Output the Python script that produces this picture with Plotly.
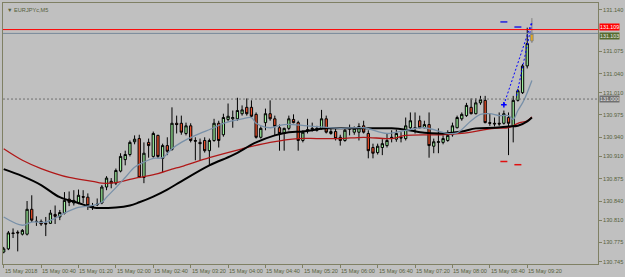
import plotly.graph_objects as go
import pandas as pd

# ---------------- data (EURJPYc, M5, 15 May 2018) ----------------
TIMES = list(pd.date_range("2018-05-15 00:00", periods=114, freq="5min"))

OPEN = [130.760,130.765,130.790,130.791,130.788,130.788,130.827,130.808,130.808,130.805,
        130.805,130.819,130.815,130.821,130.843,130.837,130.837,130.847,130.846,130.832,
        130.834,130.837,130.862,130.871,130.868,130.887,130.905,130.913,130.933,130.938,
        130.877,130.932,130.910,130.943,130.907,130.927,130.921,130.962,130.962,130.946,
        130.958,130.935,130.932,130.935,130.919,130.935,130.962,130.944,130.968,130.969,
        130.969,130.977,130.987,130.987,130.976,130.940,130.963,130.977,130.969,130.955,
        130.946,130.954,130.968,130.963,130.935,130.952,130.954,130.951,130.954,130.969,
        130.946,130.949,130.940,130.935,130.954,130.948,130.948,130.958,130.946,130.924,
        130.916,130.924,130.927,130.940,130.937,130.940,130.938,130.955,130.954,130.966,
        130.955,130.960,130.926,130.932,130.932,130.935,130.944,130.955,130.969,130.974,
        130.987,130.977,130.994,130.998,130.963,130.962,130.962,130.962,130.971,130.958,
        130.998,131.010,131.052,131.091]
HIGH = [130.768,130.793,130.797,130.794,130.796,130.840,130.849,130.816,130.811,130.815,
        130.826,130.833,130.826,130.854,130.855,130.857,130.858,130.857,130.852,130.837,
        130.844,130.865,130.879,130.876,130.891,130.915,130.919,130.935,130.943,130.944,
        130.932,130.938,130.949,130.944,130.930,130.940,130.987,130.974,130.974,130.963,
        130.962,130.940,130.938,130.940,130.938,130.969,130.966,130.977,130.993,130.982,
        131.002,130.990,131.001,130.998,130.979,130.957,130.985,130.998,130.974,130.960,
        130.955,130.974,130.976,130.966,130.951,130.969,130.963,130.958,130.983,130.974,
        130.954,130.954,130.944,130.954,130.960,130.957,130.962,130.966,130.951,130.930,
        130.930,130.937,130.946,130.951,130.952,130.948,130.971,130.979,130.979,130.974,
        130.966,130.979,130.938,130.954,130.943,130.951,130.963,130.974,130.979,130.994,
        131.001,131.001,131.005,131.005,130.977,130.971,130.979,130.982,130.979,131.005,
        131.016,131.055,131.112,131.127]
LOW = [130.758,130.763,130.782,130.761,130.786,130.786,130.807,130.801,130.801,130.785,
       130.804,130.804,130.810,130.819,130.832,130.833,130.835,130.837,130.826,130.826,
       130.832,130.835,130.857,130.860,130.865,130.885,130.896,130.910,130.929,130.876,
       130.868,130.908,130.908,130.907,130.885,130.912,130.919,130.946,130.944,130.943,
       130.932,130.904,130.904,130.916,130.896,130.933,130.924,130.941,130.965,130.955,
       130.966,130.974,130.974,130.971,130.938,130.938,130.951,130.966,130.943,130.919,
       130.919,130.951,130.962,130.919,130.932,130.946,130.949,130.949,130.952,130.946,
       130.944,130.935,130.927,130.933,130.943,130.944,130.935,130.946,130.907,130.907,
       130.913,130.912,130.924,130.932,130.933,130.932,130.935,130.952,130.946,130.954,
       130.954,130.908,130.915,130.915,130.929,130.933,130.941,130.954,130.966,130.972,
       130.976,130.976,130.991,130.962,130.958,130.957,130.958,130.960,130.912,130.932,
       130.996,131.008,131.048,131.088]
CLOSE = [130.765,130.790,130.789,130.790,130.794,130.827,130.810,130.808,130.804,130.804,
         130.821,130.816,130.822,130.841,130.838,130.841,130.849,130.846,130.833,130.831,
         130.835,130.862,130.876,130.868,130.888,130.910,130.913,130.932,130.937,130.877,
         130.915,130.927,130.946,130.910,130.927,130.918,130.962,130.960,130.948,130.958,
         130.935,130.934,130.930,130.919,130.935,130.962,130.935,130.971,130.973,130.971,
         130.982,130.983,130.977,130.973,130.940,130.954,130.977,130.969,130.957,130.946,
         130.954,130.969,130.963,130.935,130.948,130.951,130.953,130.954,130.969,130.948,
         130.949,130.938,130.935,130.951,130.953,130.954,130.957,130.948,130.919,130.915,
         130.926,130.930,130.935,130.939,130.946,130.939,130.958,130.966,130.955,130.955,
         130.960,130.927,130.933,130.933,130.938,130.943,130.958,130.971,130.976,130.990,
         130.977,130.994,130.999,130.963,130.962,130.961,130.961,130.977,130.962,130.998,
         131.013,131.052,131.087,131.103]

# moving averages, read at selected bars (bar index, price)
FAST_MA_BARS = [0,4,6,9,11,13,16,19,21,22,24,26,28,30,32,34,36,38,41,45,47,51,53,54,57,60,
                65,72,77,82,86,90,95,97,100,102,104,106,108,109,110,111,112,113]
FAST_MA = [130.815,130.802,130.807,130.807,130.813,130.821,130.830,130.833,130.838,130.846,
           130.861,130.877,130.893,130.901,130.907,130.908,130.922,130.932,130.943,130.955,
           130.962,130.969,130.971,130.962,130.955,130.960,130.958,130.954,130.955,130.946,
           130.951,130.955,130.946,130.947,130.966,130.976,130.977,130.974,130.974,130.968,
           130.982,130.994,131.010,131.029]
RED_MA_BARS = [0,4,8,14,19,21,24,27,29,33,36,38,44,51,57,63,67,72,77,83,86,94,98,105,108,
               110,112,113]
RED_MA = [130.922,130.904,130.891,130.877,130.871,130.868,130.869,130.874,130.877,130.883,
          130.890,130.894,130.908,130.922,130.932,130.938,130.938,130.938,130.940,130.938,
          130.943,130.944,130.946,130.954,130.955,130.962,130.966,130.972]
BLACK_MA_BARS = [0,4,8,12,16,19,24,27,29,32,35,38,44,49,54,58,61,64,69,72,77,83,86,90,94,
                 98,101,105,108,110,112,113]
BLACK_MA = [130.890,130.879,130.865,130.846,130.837,130.830,130.830,130.833,130.838,130.847,
            130.858,130.871,130.896,130.912,130.932,130.943,130.948,130.949,130.954,130.954,
            130.954,130.954,130.952,130.947,130.946,130.949,130.954,130.955,130.957,130.958,
            130.965,130.971]

ASK = 131.109
BID = 131.103
LEVEL = 131.000

UP_MARK_BARS = [107, 110]
UP_MARK = [131.121, 131.113]
DN_MARK_BARS = [107, 110]
DN_MARK = [130.902, 130.897]

TREND_A_BARS = [107, 113]
TREND_A = [130.991, 131.122]
TREND_B_BARS = [109.7, 113]
TREND_B = [131.005, 131.119]

Y_TICKS = [131.140, 131.075, 131.040, 131.010, 130.975, 130.940, 130.910,
           130.875, 130.840, 130.810, 130.775, 130.745]
X_LABEL_BARS = [0, 8, 16, 24, 32, 40, 48, 56, 64, 72, 80, 88, 96, 104, 112]
X_LABELS = ["15 May 2018", "15 May 00:40", "15 May 01:20", "15 May 02:00", "15 May 02:40",
            "15 May 03:20", "15 May 04:00", "15 May 04:40", "15 May 05:20", "15 May 06:00",
            "15 May 06:40", "15 May 07:20", "15 May 08:00", "15 May 08:40", "15 May 09:20"]
TITLE = "\u25bc EURJPYc,M5"

# ---------------- styling ----------------
BG = "#C0C0C0"
FG = "#55603A"
FONT = "Liberation Sans"
FS = 5.6


def bar_time(b):
    return TIMES[0] + pd.Timedelta(minutes=5 * b)


fig = go.Figure()

fig.add_trace(go.Candlestick(
    x=TIMES[:-1], open=OPEN[:-1], high=HIGH[:-1], low=LOW[:-1], close=CLOSE[:-1],
    increasing=dict(fillcolor="#9CF09C", line=dict(color="#000000", width=1)),
    decreasing=dict(fillcolor="#F0502A", line=dict(color="#000000", width=1)),
    whiskerwidth=0, hoverinfo="skip", showlegend=False))
fig.add_trace(go.Candlestick(
    x=TIMES[-1:], open=OPEN[-1:], high=HIGH[-1:], low=LOW[-1:], close=CLOSE[-1:],
    increasing=dict(fillcolor="#FFB400", line=dict(color="#808080", width=1)),
    decreasing=dict(fillcolor="#FFB400", line=dict(color="#808080", width=1)),
    whiskerwidth=0, hoverinfo="skip", showlegend=False))

fig.add_trace(go.Scatter(x=[bar_time(b) for b in RED_MA_BARS], y=RED_MA, mode="lines",
                         line=dict(color="#B01818", width=1.3, shape="spline"),
                         hoverinfo="skip", showlegend=False))
fig.add_trace(go.Scatter(x=[bar_time(b) for b in BLACK_MA_BARS], y=BLACK_MA, mode="lines",
                         line=dict(color="#000000", width=2, shape="spline"),
                         hoverinfo="skip", showlegend=False))
fig.add_trace(go.Scatter(x=[bar_time(b) for b in FAST_MA_BARS], y=FAST_MA, mode="lines",
                         line=dict(color="#7890A8", width=1.3, shape="spline"),
                         hoverinfo="skip", showlegend=False))

for bars, vals in ((TREND_A_BARS, TREND_A), (TREND_B_BARS, TREND_B)):
    fig.add_trace(go.Scatter(x=[bar_time(b) for b in bars], y=vals, mode="lines",
                             line=dict(color="#0000FF", width=1, dash="2px,2px"),
                             hoverinfo="skip", showlegend=False))
fig.add_trace(go.Scatter(x=[bar_time(TREND_A_BARS[0])], y=[TREND_A[0]], mode="markers",
                         marker=dict(symbol="cross-thin", size=4,
                                     line=dict(color="#0000FF", width=1.5)),
                         hoverinfo="skip", showlegend=False))
fig.add_trace(go.Scatter(x=[bar_time(b) for b in UP_MARK_BARS], y=UP_MARK, mode="markers",
                         marker=dict(symbol="line-ew", size=5,
                                     line=dict(color="#2020E0", width=1.5)),
                         hoverinfo="skip", showlegend=False))
fig.add_trace(go.Scatter(x=[bar_time(b) for b in DN_MARK_BARS], y=DN_MARK, mode="markers",
                         marker=dict(symbol="line-ew", size=5,
                                     line=dict(color="#E01010", width=1.5)),
                         hoverinfo="skip", showlegend=False))

# horizontal price lines
fig.add_shape(type="line", xref="paper", x0=0, x1=1, yref="y", y0=ASK, y1=ASK,
              line=dict(color="#FF0000", width=1))
fig.add_shape(type="line", xref="paper", x0=0, x1=1, yref="y", y0=BID, y1=BID,
              line=dict(color="#778899", width=1))
fig.add_shape(type="line", xref="paper", x0=0, x1=1, yref="y", y0=LEVEL, y1=LEVEL,
              line=dict(color="#707070", width=1, dash="2px,2px"))

# price labels on the right axis (ask label sits just above the bid label)
for val, bg, fg, shift in ((LEVEL, "#707070", "#E8E8E8", 0),
                           (BID, "#556B2F", "#E8E8E8", -2.2),
                           (ASK, "#FF0000", "#FFFFFF", 2.2)):
    fig.add_annotation(xref="paper", x=1, xanchor="left", xshift=1, yref="y", y=val,
                       yanchor="middle", yshift=shift, text=f"{val:.3f}", showarrow=False,
                       bgcolor=bg, borderpad=0,
                       font=dict(family=FONT, size=5.3, color=fg))

# title
fig.add_annotation(xref="paper", x=0, xanchor="left", xshift=2, yref="paper", y=1,
                   yanchor="top", yshift=-2, text=TITLE, showarrow=False,
                   font=dict(family=FONT, size=FS, color=FG))

# time labels
for b, lab in zip(X_LABEL_BARS, X_LABELS):
    fig.add_annotation(xref="x", x=bar_time(b), xanchor="left", xshift=-1,
                       yref="paper", y=0, yanchor="top", yshift=-2, text=lab,
                       showarrow=False, font=dict(family=FONT, size=FS, color=FG))

x_lo = TIMES[0] - pd.Timedelta(seconds=45)
x_hi = TIMES[0] + pd.Timedelta(seconds=38142)

fig.update_layout(
    width=625, height=277, margin=dict(l=2, r=26, t=2, b=13),
    paper_bgcolor=BG, plot_bgcolor=BG,
    xaxis=dict(type="date", range=[x_lo, x_hi], rangeslider=dict(visible=False),
               showgrid=False, zeroline=False, showline=True, mirror=True,
               linecolor="#7F8064", linewidth=1,
               tickvals=[bar_time(b) for b in X_LABEL_BARS], showticklabels=False,
               ticks="outside", ticklen=3, tickcolor="#7F8064", fixedrange=True),
    yaxis=dict(side="right", range=[130.7412, 131.1507], showgrid=False, zeroline=False,
               showline=True, mirror=True, linecolor="#7F8064", linewidth=1,
               tickvals=Y_TICKS, ticktext=[f"{v:.3f}" for v in Y_TICKS],
               ticks="outside", ticklen=3, tickcolor="#7F8064",
               tickfont=dict(family=FONT, size=FS, color=FG), fixedrange=True),
    showlegend=False,
)

fig.write_html("out.html", config={"displayModeBar": False})
